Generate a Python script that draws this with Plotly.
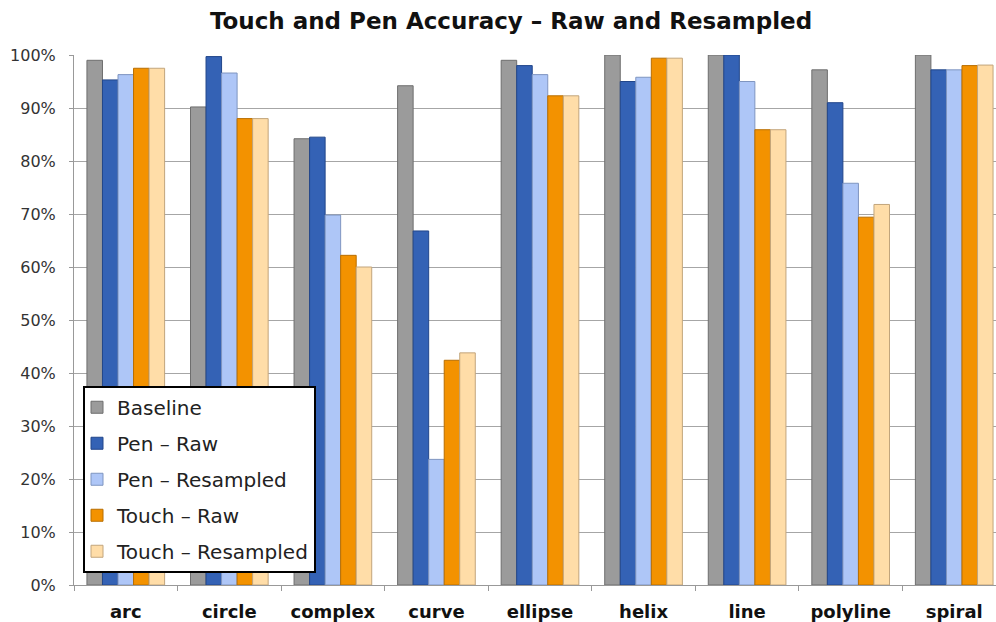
import plotly.graph_objects as go

categories = ["arc", "circle", "complex", "curve", "ellipse", "helix", "line", "polyline", "spiral"]
baseline = [0.990, 0.902, 0.842, 0.942, 0.990, 1.000, 1.000, 0.972, 1.000]
pen_raw = [0.953, 0.997, 0.845, 0.668, 0.980, 0.950, 1.000, 0.910, 0.972]
pen_resampled = [0.963, 0.966, 0.698, 0.237, 0.963, 0.958, 0.950, 0.758, 0.972]
touch_raw = [0.975, 0.880, 0.622, 0.424, 0.923, 0.994, 0.859, 0.694, 0.980]
touch_resampled = [0.975, 0.880, 0.600, 0.438, 0.923, 0.994, 0.859, 0.718, 0.981]

series = [
    ("Baseline", baseline, "#9B9B9B", "#6E6E6E"),
    ("Pen – Raw", pen_raw, "#3462B5", "#22468A"),
    ("Pen – Resampled", pen_resampled, "#AEC6F7", "#7F95C0"),
    ("Touch – Raw", touch_raw, "#F39200", "#B86E00"),
    ("Touch – Resampled", touch_resampled, "#FFDDA8", "#C2A57C"),
]

FONT = "DejaVu Sans"
fig = go.Figure()
for i, (name, vals, col, edge) in enumerate(series):
    fig.add_trace(go.Bar(
        x=categories, y=vals, name=name, legendgroup=f"g{i}",
        marker=dict(color=col, line=dict(color=edge, width=1)),
    ))

W, H = 996, 622
L, T, B = 74, 55, 35
PW, PH = W - L, H - T - B
fig.update_layout(
    width=W, height=H,
    margin=dict(l=L, r=0, t=T, b=B),
    paper_bgcolor="white", plot_bgcolor="white",
    barmode="group", bargap=0.25, bargroupgap=0,
    font=dict(family=FONT, color="#222222"),
    title=dict(text="<b>Touch and Pen Accuracy – Raw and Resampled</b>",
               x=511 / W, xanchor="center", y=1 - 21 / H, yanchor="middle",
               font=dict(family=FONT, size=23, color="#111111")),
    legend=dict(x=(83 - L) / PW, xanchor="left", y=1 - (387 - T) / PH, yanchor="top",
                bgcolor="white", bordercolor="black", borderwidth=2,
                font=dict(family=FONT, size=20, color="#222222"),
                tracegroupgap=7, traceorder="grouped", indentation=-8),
    showlegend=True,
)
fig.update_xaxes(
    range=[-0.5, 8.5 - 10 / 103.6],
    showline=True, linecolor="#999999", linewidth=1,
    ticks="outside", tickson="boundaries", ticklen=5, tickcolor="#999999",
    tickfont=dict(family=FONT, size=18, color="#111111"),
    ticklabelstandoff=10,
    tickprefix="<b>", ticksuffix="</b>",
    showgrid=False,
)
fig.update_yaxes(
    range=[0, 1.0], dtick=0.1, tickformat=".0%",
    showline=True, linecolor="#999999", linewidth=1,
    ticks="outside", ticklen=4, tickcolor="#999999",
    showgrid=True, gridcolor="#A6A6A6", gridwidth=1,
    tickfont=dict(family=FONT, size=16, color="#333333"),
    ticklabelstandoff=10,
    zeroline=False,
)
fig.write_html("out.html")
